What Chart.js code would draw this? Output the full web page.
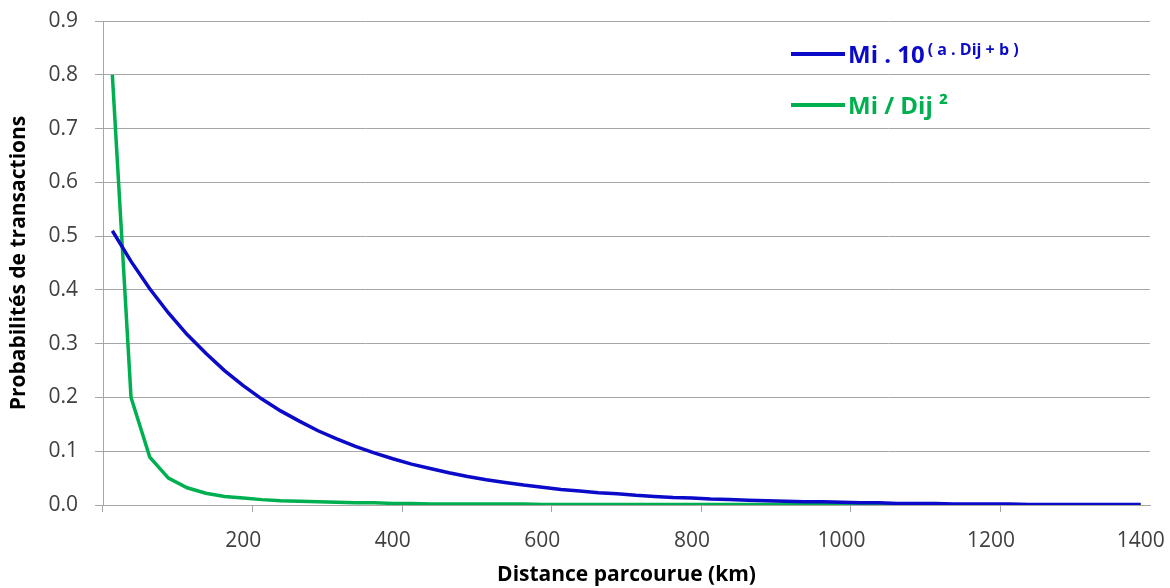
<!DOCTYPE html>
<html>
<head>
<meta charset="utf-8">
<script src="https://cdn.jsdelivr.net/npm/chart.js@4.4.1/dist/chart.umd.min.js"></script>
<style>
  html, body { margin: 0; padding: 0; background: #fff; }
  #wrap { position: relative; width: 1170px; height: 588px; }
  #legend { position: absolute; left: 791px; top: 28px; font-family: "Open Sans", sans-serif; font-weight: bold; }
  .row { display: flex; align-items: center; height: 51px; white-space: nowrap; font-size: 24px; }
  .swatch { width: 54px; height: 4px; margin-right: 3px; }
  .row sup { font-size: 16px; position: relative; top: -5px; margin-left: 3px; }
</style>
</head>
<body>
<div id="wrap">
  <canvas id="chart" width="1170" height="588"></canvas>
  <div id="legend"></div>
</div>
<script>
document.addEventListener('DOMContentLoaded', function () {
    const distances = [25, 50, 75, 100, 125, 150, 175, 200, 225, 250, 275, 300, 325, 350,
        375, 400, 425, 450, 475, 500, 525, 550, 575, 600, 625, 650, 675, 700,
        725, 750, 775, 800, 825, 850, 875, 900, 925, 950, 975, 1000, 1025, 1050,
        1075, 1100, 1125, 1150, 1175, 1200, 1225, 1250, 1275, 1300, 1325, 1350, 1375, 1400];

    const expValues = [0.510, 0.453, 0.402, 0.357, 0.317, 0.282, 0.250, 0.222, 0.197, 0.175,
        0.156, 0.138, 0.123, 0.109, 0.097, 0.086, 0.076, 0.068, 0.060, 0.053,
        0.047, 0.042, 0.037, 0.033, 0.029, 0.026, 0.023, 0.021, 0.018, 0.016,
        0.014, 0.013, 0.011, 0.010, 0.009, 0.008, 0.007, 0.006, 0.006, 0.005,
        0.004, 0.004, 0.003, 0.003, 0.003, 0.002, 0.002, 0.002, 0.002, 0.001,
        0.001, 0.001, 0.001, 0.001, 0.001, 0.001];

    const gravValues = [0.800, 0.200, 0.089, 0.050, 0.032, 0.022, 0.016, 0.013, 0.010, 0.008,
        0.007, 0.006, 0.005, 0.004, 0.004, 0.003, 0.003, 0.002, 0.002, 0.002,
        0.002, 0.002, 0.002, 0.001, 0.001, 0.001, 0.001, 0.001, 0.001, 0.001,
        0.001, 0.001, 0.001, 0.001, 0.001, 0.001, 0.001, 0.001, 0.001, 0.001,
        0.000, 0.000, 0.000, 0.000, 0.000, 0.000, 0.000, 0.000, 0.000, 0.000,
        0.000, 0.000, 0.000, 0.000, 0.000, 0.000];

    const seriesNames = ['Mi . 10^( a . Dij + b )', 'Mi / Dij ²'];
    const seriesColors = ['#0a0ac8', '#00b050'];

    const textColor = '#404040';
    const gridColor = '#a6a6a6';
    const tickFont = { family: '"Open Sans", sans-serif', size: 21 };
    const titleFont = { family: '"Open Sans", sans-serif', size: 21, weight: 'bold' };

    // legend with superscript, built from the series names
    const legend = document.getElementById('legend');
    seriesNames.forEach(function (name, i) {
        const row = document.createElement('div');
        row.className = 'row';
        row.style.color = seriesColors[i];
        const sw = document.createElement('span');
        sw.className = 'swatch';
        sw.style.background = seriesColors[i];
        row.appendChild(sw);
        const parts = name.split('^');
        row.appendChild(document.createTextNode(parts[0]));
        if (parts[1]) {
            const sup = document.createElement('sup');
            sup.textContent = parts[1];
            row.appendChild(sup);
        }
        legend.appendChild(row);
    });

    new Chart(document.getElementById('chart'), {
        type: 'line',
        data: {
            labels: distances,
            datasets: [{
                label: seriesNames[0].replace('^', ''),
                data: expValues,
                borderColor: seriesColors[0],
                borderWidth: 3.5,
                pointRadius: 0,
                tension: 0
            }, {
                label: seriesNames[1],
                data: gravValues,
                borderColor: seriesColors[1],
                borderWidth: 3.5,
                pointRadius: 0,
                tension: 0
            }]
        },
        options: {
            responsive: false,
            animation: false,
            layout: { padding: { top: 21, right: 20, left: 0, bottom: 0 } },
            plugins: {
                legend: { display: false },
                tooltip: { enabled: false }
            },
            scales: {
                x: {
                    type: 'category',
                    offset: true,
                    afterFit: function (scale) {
                        scale.height = 83;
                        scale.paddingLeft = 0;
                        scale.paddingRight = 0;
                    },
                    grid: {
                        offset: true,
                        drawOnChartArea: false,
                        drawTicks: true,
                        tickLength: 7,
                        color: function (ctx) { return ctx.index % 8 === 0 ? gridColor : 'rgba(0,0,0,0)'; }
                    },
                    border: { color: gridColor, width: 1 },
                    ticks: {
                        autoSkip: false,
                        maxRotation: 0,
                        color: textColor,
                        font: tickFont,
                        padding: 16,
                        callback: function (value) {
                            const v = this.getLabelForValue(value);
                            return v % 200 === 0 ? String(v) : '';
                        }
                    },
                    title: {
                        display: true,
                        text: 'Distance parcourue (km)',
                        color: '#000',
                        font: titleFont,
                        padding: { top: 0, bottom: 0 }
                    }
                },
                y: {
                    min: 0,
                    max: 0.9,
                    afterFit: function (scale) {
                        scale.width = 103;
                        scale.paddingTop = 0;
                        scale.paddingBottom = 0;
                    },
                    grid: { color: gridColor, tickLength: 8 },
                    border: { color: gridColor, width: 1 },
                    ticks: {
                        stepSize: 0.1,
                        color: textColor,
                        font: tickFont,
                        padding: 17,
                        callback: function (v) { return v.toFixed(1); }
                    },
                    title: {
                        display: true,
                        text: 'Probabilités de transactions',
                        color: '#000',
                        font: titleFont,
                        padding: { top: 6, bottom: 0 }
                    }
                }
            }
        }
    });
});
</script>
</body>
</html>
